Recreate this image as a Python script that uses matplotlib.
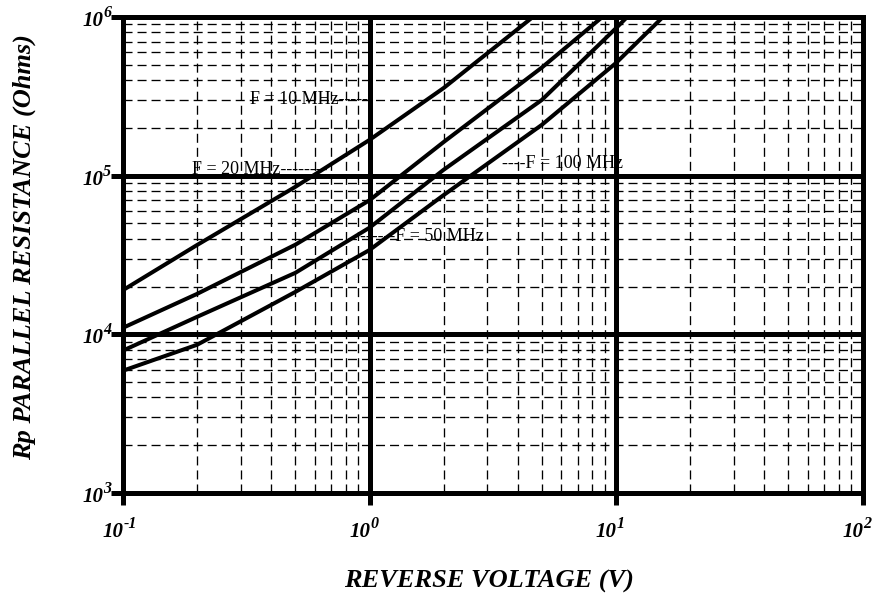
# Rp parallel resistance vs reverse voltage, log-log

import matplotlib
matplotlib.use("Agg")
import matplotlib.pyplot as plt
import matplotlib.transforms as mtransforms

plt.rcParams['font.family'] = ['Liberation Serif', 'DejaVu Serif']
plt.rcParams['lines.scale_dashes'] = False

# reverse voltage (V) and Rp (Ohms) per frequency
v_10 = [0.1, 0.2, 0.5, 1.0, 2.0, 4.6]
r_10 = [1.9e4, 3.66e4, 8.5e4, 1.68e5, 3.57e5, 1.0e6]

v_20 = [0.1, 0.2, 0.5, 1.0, 2.0, 5.0, 8.8]
r_20 = [1.1e4, 1.8e4, 3.67e4, 7.0e4, 1.63e5, 4.8e5, 1.0e6]

v_50 = [0.1, 0.2, 0.5, 1.0, 2.0, 5.0, 10.0, 11.1]
r_50 = [7.9e3, 1.29e4, 2.44e4, 4.7e4, 1.09e5, 3.0e5, 8.5e5, 1.0e6]

v_100 = [0.1, 0.2, 0.5, 1.0, 2.0, 5.0, 10.0, 15.5]
r_100 = [5.9e3, 8.6e3, 1.85e4, 3.4e4, 7.55e4, 2.09e5, 5.13e5, 1.0e6]

# curve labels: text, x, y
labels = [
    ("F = 10 MHz-----", 0.327, 3.13e5),
    ("F = 20 MHz--------", 0.19, 1.13e5),
    ("------F = 50 MHz", 0.915, 4.23e4),
    ("----F = 100 MHz", 3.45, 1.22e5),
]

xticks = [0.1, 1, 10, 100]
xtick_exp = ["-1", "0", "1", "2"]
yticks = [1e3, 1e4, 1e5, 1e6]
ytick_exp = ["3", "4", "5", "6"]

fig = plt.figure(figsize=(8.73, 5.96), dpi=100)
ax = fig.add_axes([123/873, 1-493/596, (862.5-123)/873, (493-17)/596])

ax.set_xscale('log')
ax.set_yscale('log')
ax.set_xlim(0.1, 100)
ax.set_ylim(1e3, 1e6)

major_lw = 3.6
ax.grid(True, which='major', color='black', linewidth=major_lw, linestyle='-')
ax.grid(True, which='minor', color='black', linewidth=0.95, linestyle=(0, (6.5, 3.6)))
ax.set_axisbelow(True)

for s in ax.spines.values():
    s.set_linewidth(major_lw)

for v, r in [(v_10, r_10), (v_20, r_20), (v_50, r_50), (v_100, r_100)]:
    ax.plot(v, r, color='black', linewidth=2.9, solid_joinstyle='round')

for txt, x, y in labels:
    ax.text(x, y, txt, fontsize=13, va='center_baseline', ha='left', color='black')

ax.set_xticks(xticks)
ax.set_yticks(yticks)
ax.set_xticklabels([])
ax.set_yticklabels([])
ax.tick_params(which='major', direction='out', length=8.6, width=major_lw)
ax.tick_params(which='minor', length=0)

# tick labels drawn by hand: "10" plus a raised exponent
lab = dict(fontsize=15, fontweight='bold', fontstyle='italic', color='black')
sup = dict(fontsize=11.5, fontweight='bold', fontstyle='italic', color='black')
px = 72 / 100  # points per pixel

bx = mtransforms.blended_transform_factory(ax.transData, ax.transAxes)
for t, e in zip(xticks, xtick_exp):
    off = mtransforms.ScaledTranslation(1 * px / 72, -44 * px / 72, fig.dpi_scale_trans)
    ax.text(t, 0, "10", transform=bx + off, ha='right', va='baseline', clip_on=False, **lab)
    off = mtransforms.ScaledTranslation(1 * px / 72, -35 * px / 72, fig.dpi_scale_trans)
    ax.text(t, 0, e, transform=bx + off, ha='left', va='baseline', clip_on=False, **sup)

by = mtransforms.blended_transform_factory(ax.transAxes, ax.transData)
for t, e in zip(yticks, ytick_exp):
    off = mtransforms.ScaledTranslation(-19 * px / 72, -9 * px / 72, fig.dpi_scale_trans)
    ax.text(0, t, "10", transform=by + off, ha='right', va='baseline', clip_on=False, **lab)
    off = mtransforms.ScaledTranslation(-20 * px / 72, 0, fig.dpi_scale_trans)
    ax.text(0, t, e, transform=by + off, ha='left', va='baseline', clip_on=False, **sup)

fig.text(488.5/873, 1-588/596, 'REVERSE VOLTAGE (V)', fontsize=19, fontweight='bold',
         fontstyle='italic', ha='center', va='baseline')
fig.text(24/873, 1-247/596, 'Rp PARALLEL RESISTANCE (Ohms)', fontsize=19, fontweight='bold',
         fontstyle='italic', rotation=90, ha='center', va='center')

fig.savefig('out.png', dpi=100)
